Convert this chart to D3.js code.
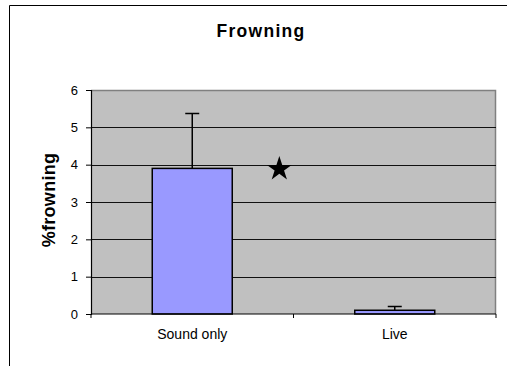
<!DOCTYPE html>
<html lang="en">
<head>
<meta charset="UTF-8">
<title>Frowning</title>
<script src="https://d3js.org/d3.v7.min.js"></script>
<style>
    body { margin: 0; padding: 0; background: #fff; font-family: Arial, "Liberation Sans", sans-serif; }
    svg { display: block; }
</style>
</head>
<body>
<svg id="chart"></svg>
<script>
    const categories = ["Sound only", "Live"];
    const values = [3.9, 0.1];
    const errors = [1.47, 0.1];
    const yTicks = [0, 1, 2, 3, 4, 5, 6];

    const width = 507, height = 366;
    const margin = { top: 90, right: 11, bottom: 52, left: 91 };
    const innerW = width - margin.left - margin.right;
    const innerH = height - margin.top - margin.bottom;

    const svg = d3.select("#chart").attr("width", width).attr("height", height);

    // outer frame (cut at right and bottom)
    svg.append("path")
        .attr("d", `M9.5,${height} V5.5 H${width}`)
        .attr("fill", "none")
        .attr("stroke", "#000");

    svg.append("text")
        .attr("x", 261).attr("y", 37)
        .attr("text-anchor", "middle")
        .style("font-weight", "bold").style("font-size", "17.5px")
        .style("letter-spacing", "1.3px")
        .text("Frowning");

    const g = svg.append("g").attr("transform", `translate(${margin.left},${margin.top})`);

    const xBand = d3.scaleBand().domain(categories).range([0, innerW]);
    const y = d3.scaleLinear().domain([0, 6]).range([innerH, 0]);

    g.append("rect")
        .attr("width", innerW).attr("height", innerH)
        .attr("fill", "#c0c0c0");
    // plot area border (top/right grey)
    g.append("path")
        .attr("d", `M0,0.5 H${innerW - 0.5} V${innerH}`)
        .attr("fill", "none").attr("stroke", "#808080").attr("stroke-width", 1.5);

    g.selectAll(".grid")
        .data(yTicks.filter(d => d > 0 && d < 6))
        .enter().append("line")
        .attr("x1", 0).attr("x2", innerW)
        .attr("y1", d => Math.round(y(d)) + 0.5).attr("y2", d => Math.round(y(d)) + 0.5)
        .attr("stroke", "#111").attr("stroke-width", 1);

    const cx = i => xBand(categories[i]) + xBand.bandwidth() / 2;

    // bars
    g.selectAll(".bar")
        .data(values)
        .enter().append("rect")
        .attr("x", (d, i) => cx(i) - 40)
        .attr("y", d => y(d))
        .attr("width", 80)
        .attr("height", d => innerH - y(d))
        .attr("fill", "#9999ff").attr("stroke", "#000").attr("stroke-width", 1.5);

    // error bars
    g.selectAll(".err")
        .data(values)
        .enter().append("path")
        .attr("d", (d, i) => `M${cx(i)},${y(d)} V${y(d + errors[i])} M${cx(i) - 7},${y(d + errors[i])} H${cx(i) + 7}`)
        .attr("fill", "none").attr("stroke", "#000").attr("stroke-width", 1.5);

    // y axis
    const yAxis = g.append("g")
        .call(d3.axisLeft(y).tickValues(yTicks).tickSize(5).tickPadding(8).tickFormat(d3.format("d")));
    yAxis.select(".domain").attr("stroke", "#000").attr("stroke-width", 1.2);
    yAxis.selectAll("line").attr("stroke", "#000");
    yAxis.selectAll("text").style("font-size", "13px").style("font-family", "Arial, 'Liberation Sans', sans-serif").attr("fill", "#000");

    // x axis
    const xAxis = g.append("g").attr("transform", `translate(0,${innerH})`);
    xAxis.append("line").attr("x1", 0).attr("x2", innerW).attr("stroke", "#000").attr("stroke-width", 1.2);
    xAxis.selectAll(".xt")
        .data([0, ...categories.map(c => xBand(c) + xBand.bandwidth())])
        .enter().append("line")
        .attr("x1", d => d).attr("x2", d => d).attr("y1", 0).attr("y2", 4)
        .attr("stroke", "#000");
    xAxis.selectAll(".xl")
        .data(categories)
        .enter().append("text")
        .attr("x", d => xBand(d) + xBand.bandwidth() / 2)
        .attr("y", 25)
        .attr("text-anchor", "middle")
        .style("font-size", "14px")
        .text(d => d);

    // y label
    svg.append("text")
        .attr("transform", `translate(55,200) rotate(-90)`)
        .attr("text-anchor", "middle")
        .style("font-weight", "bold").style("font-size", "18px")
        .style("letter-spacing", "0.3px")
        .text("%frowning");

    // significance star
    const star = d3.symbol().type(d3.symbolStar).size(190);
    svg.append("path")
        .attr("d", star())
        .attr("transform", `translate(${margin.left + xBand.bandwidth() * 0.93}, ${margin.top + y(values[0]) + 0.5})`)
        .attr("fill", "#000");
</script>
</body>
</html>
